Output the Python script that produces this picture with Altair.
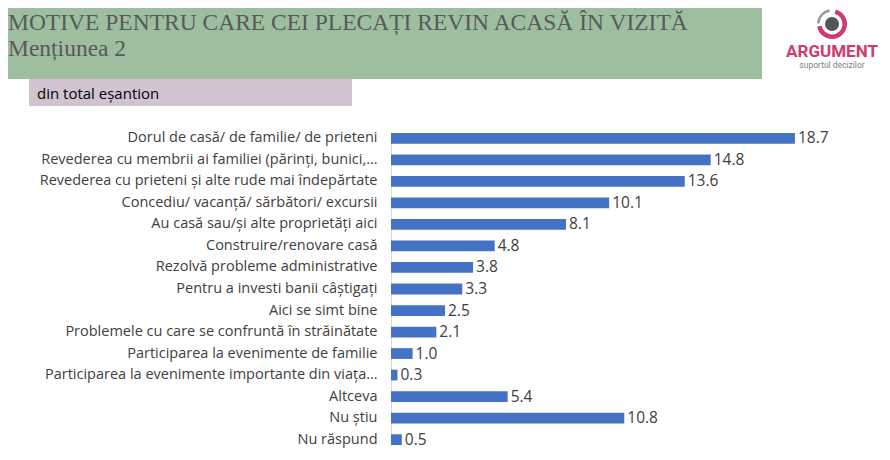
import altair as alt
import pandas as pd

categories = [
    "Dorul de casă/ de familie/ de prieteni",
    "Revederea cu membrii ai familiei (părinți, bunici,…",
    "Revederea cu prieteni și alte rude mai îndepărtate",
    "Concediu/ vacanță/ sărbători/ excursii",
    "Au casă sau/și alte proprietăți aici",
    "Construire/renovare casă",
    "Rezolvă probleme administrative",
    "Pentru a investi banii câștigați",
    "Aici se simt bine",
    "Problemele cu care se confruntă în străinătate",
    "Participarea la evenimente de familie",
    "Participarea la evenimente importante din viața…",
    "Altceva",
    "Nu știu",
    "Nu răspund",
]
values = [18.7, 14.8, 13.6, 10.1, 8.1, 4.8, 3.8, 3.3, 2.5, 2.1, 1.0, 0.3, 5.4, 10.8, 0.5]

title_line1 = "MOTIVE PENTRU CARE CEI PLECAȚI REVIN ACASĂ ÎN VIZITĂ"
title_line2 = "Mențiunea 2"
subtitle = "din total eșantion"
logo_name = "ARGUMENT"
logo_tag = "suportul decizilor"

df = pd.DataFrame({"cat": categories, "val": values})
one = pd.DataFrame({"k": [0]})

LBL = "Open Sans"
W, H = 432, 312
TOP = 125

y_enc = alt.Y("cat:N", sort=categories, title=None,
              scale=alt.Scale(paddingInner=0.5, paddingOuter=0),
              axis=alt.Axis(labelFont=LBL, labelFontSize=14.5, labelColor="#404040",
                            labelPadding=14, ticks=False, domainColor="#d9d9d9",
                            domainWidth=1, labelLimit=400))
x_enc = alt.X("val:Q", scale=alt.Scale(domain=[0, 20]), axis=None)

bars = alt.Chart(df).mark_bar(color="#4472C4").encode(x=x_enc, y=y_enc)
labels = alt.Chart(df).mark_text(align="left", baseline="middle", dx=3, dy=0,
                                 font=LBL, fontSize=15.5, color="#404040").encode(
    x=x_enc, y=alt.Y("cat:N", sort=categories), text=alt.Text("val:Q", format=".1f"))

def vy(page_y):
    return alt.value(page_y - 8 - TOP)

def vx(page_x):
    return alt.value(page_x - 8 - 383)

header = alt.Chart(one).mark_rect(color="#9DBFA0").encode(
    x=vx(8), x2=vx(762), y=vy(8), y2=vy(79))
subbox = alt.Chart(one).mark_rect(color="#CFC4D0").encode(
    x=vx(29), x2=vx(352), y=vy(79), y2=vy(106))
t1 = alt.Chart(one).mark_text(text=title_line1, align="left", baseline="alphabetic",
                              font="Liberation Serif", fontSize=23.5, color="#595959").encode(
    x=vx(8), y=vy(30))
t2 = alt.Chart(one).mark_text(text=title_line2, align="left", baseline="alphabetic",
                              font="Liberation Serif", fontSize=23.5, color="#595959").encode(
    x=vx(8), y=vy(56))
t3 = alt.Chart(one).mark_text(text=subtitle, align="left", baseline="alphabetic",
                              font=LBL, fontSize=15, color="#000000").encode(
    x=vx(37), y=vy(99))

CX, CY = vx(832), vy(24)
ring = alt.Chart(one).mark_arc(radius=15, radius2=10.5, theta=0.25, theta2=4.55,
                               color="#D13A6E").encode(x=CX, y=CY)
ring2 = alt.Chart(one).mark_arc(radius=15, radius2=12.5, theta=4.75, theta2=6.1,
                                color="#9A9A9A").encode(x=CX, y=CY)
dot = alt.Chart(one).mark_arc(radius=7, theta=0, theta2=6.2832,
                              color="#555555").encode(x=CX, y=CY)
logo1 = alt.Chart(one).mark_text(text=logo_name, align="center", baseline="alphabetic",
                                 font="Roboto", fontWeight="bold", fontSize=17,
                                 color="#D13A6E").encode(x=CX, y=vy(57))
logo2 = alt.Chart(one).mark_text(text=logo_tag, align="center", baseline="alphabetic",
                                 font="Roboto", fontSize=8.5,
                                 color="#7F7F7F").encode(x=CX, y=vy(68))

chart = alt.layer(header, subbox, t1, t2, t3, ring, ring2, dot, logo1, logo2, bars, labels).properties(
    width=W, height=H,
    padding={"left": 383, "top": TOP, "right": 59, "bottom": 444 - TOP - H},
    autosize=alt.AutoSizeParams(type="none"),
).configure_view(stroke=None)

chart.save("out.html", embed_options={"renderer": "svg", "actions": False})
